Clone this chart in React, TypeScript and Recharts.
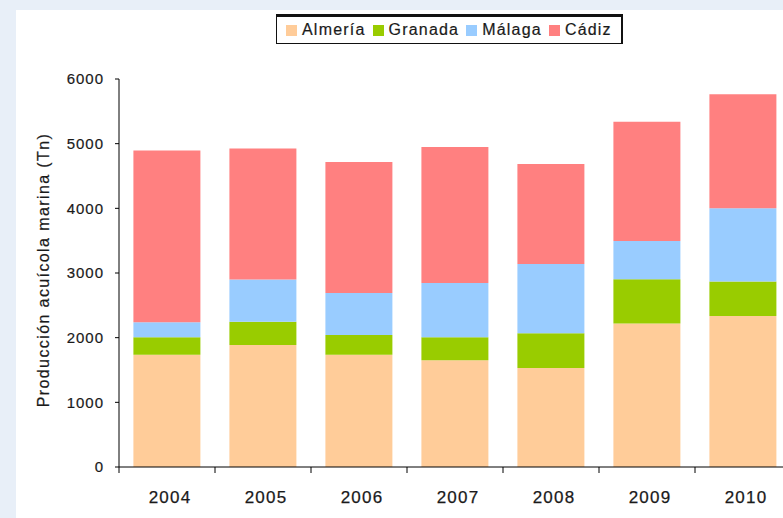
import { BarChart, Bar, XAxis, YAxis } from "recharts";

const years = ["2004", "2005", "2006", "2007", "2008", "2009", "2010"];
const almeria = [1735, 1885, 1735, 1650, 1530, 2220, 2335];
const granada = [270, 360, 305, 355, 540, 685, 535];
const malaga = [235, 655, 650, 840, 1070, 590, 1130];
const cadiz = [2655, 2025, 2025, 2105, 1545, 1845, 1765];
const yTicks = [0, 1000, 2000, 3000, 4000, 5000, 6000];

const series = [
  { key: "almeria", name: "Almería", color: "#FFCC99" },
  { key: "granada", name: "Granada", color: "#99CC00" },
  { key: "malaga", name: "Málaga", color: "#99CCFF" },
  { key: "cadiz", name: "Cádiz", color: "#FF8080" },
];

const data = years.map((year, i) => ({
  year,
  almeria: almeria[i],
  granada: granada[i],
  malaga: malaga[i],
  cadiz: cadiz[i],
}));

const FONT = '"Liberation Sans", Arial, sans-serif';
const INK = "#1a1a1a";

function YearTick(props: any) {
  const { x, y, payload, index, width, visibleTicksCount } = props;
  const half =
    payload && typeof payload.offset === "number" && payload.offset > 0
      ? payload.offset
      : width / (visibleTicksCount || years.length) / 2;
  const last = index === years.length - 1;
  return (
    <g>
      <line x1={x - half} x2={x - half} y1={y} y2={y + 6} stroke="#000" />
      {last && <line x1={x + half} x2={x + half} y1={y} y2={y + 6} stroke="#000" />}
      <text
        x={x + 3}
        y={y + 36}
        textAnchor="middle"
        fill={INK}
        stroke={INK}
        strokeWidth={0.25}
        fontSize={17}
        letterSpacing={1.2}
        fontFamily={FONT}
      >
        {payload.value}
      </text>
    </g>
  );
}

function YTitle(props: any) {
  const vb = props.viewBox || { y: 79, height: 388 };
  const cy = vb.y + vb.height / 2 - 3;
  return (
    <text
      transform={`translate(49, ${cy}) rotate(-90)`}
      textAnchor="middle"
      fill={INK}
      stroke={INK}
      strokeWidth={0.2}
      fontSize={16}
      letterSpacing={1.4}
      fontFamily={FONT}
    >
      Producción acuícola marina (Tn)
    </text>
  );
}

function LegendBox() {
  return (
    <div
      style={{
        position: "absolute",
        left: 276,
        top: 14,
        height: 26,
        boxSizing: "content-box",
        border: "1px solid #111",
        borderTopWidth: 3,
        borderRightWidth: 2,
        background: "#fff",
        display: "flex",
        alignItems: "center",
        paddingLeft: 9,
        paddingRight: 2,
        fontFamily: FONT,
        fontSize: 16,
        letterSpacing: 1.2,
        color: INK,
        WebkitTextStroke: "0.2px #1a1a1a",
        whiteSpace: "nowrap",
      }}
    >
      {series.map((s) => (
        <span key={s.key} style={{ display: "flex", alignItems: "center", marginRight: 7 }}>
          <span
            style={{ width: 11, height: 11, background: s.color, marginRight: 5, display: "inline-block" }}
          />
          {s.name}
        </span>
      ))}
    </div>
  );
}

export default function App() {
  return (
    <div
      style={{
        position: "absolute",
        left: 0,
        top: 0,
        width: 783,
        height: 518,
        overflow: "hidden",
        background: "#E8EFF8",
        fontFamily: FONT,
      }}
    >
      <div style={{ position: "absolute", left: 16, top: 10, right: 0, bottom: 0, background: "#fff" }} />
      <div style={{ position: "absolute", left: 0, top: 0 }}>
        <BarChart
          width={830}
          height={518}
          data={data}
          margin={{ top: 79, right: 39, bottom: 11, left: 59 }}
          barCategoryGap="15%"
        >
          <XAxis
            dataKey="year"
            height={40}
            axisLine={{ stroke: "#000" }}
            tickLine={false}
            tickSize={0}
            tickMargin={0}
            interval={0}
            tick={<YearTick />}
          />
          <YAxis
            width={60}
            domain={[0, 6000]}
            ticks={yTicks}
            interval={0}
            axisLine={{ stroke: "#000" }}
            tickLine={{ stroke: "#000" }}
            tickSize={4}
            tickMargin={11}
            tick={{ fill: INK, stroke: INK, strokeWidth: 0.2, fontSize: 15, letterSpacing: 1, fontFamily: FONT }}
            label={{ content: <YTitle /> }}
          />
          {series.map((s) => (
            <Bar
              key={s.key}
              dataKey={s.key}
              name={s.name}
              stackId="a"
              fill={s.color}
              isAnimationActive={false}
            />
          ))}
        </BarChart>
      </div>
      <LegendBox />
    </div>
  );
}
